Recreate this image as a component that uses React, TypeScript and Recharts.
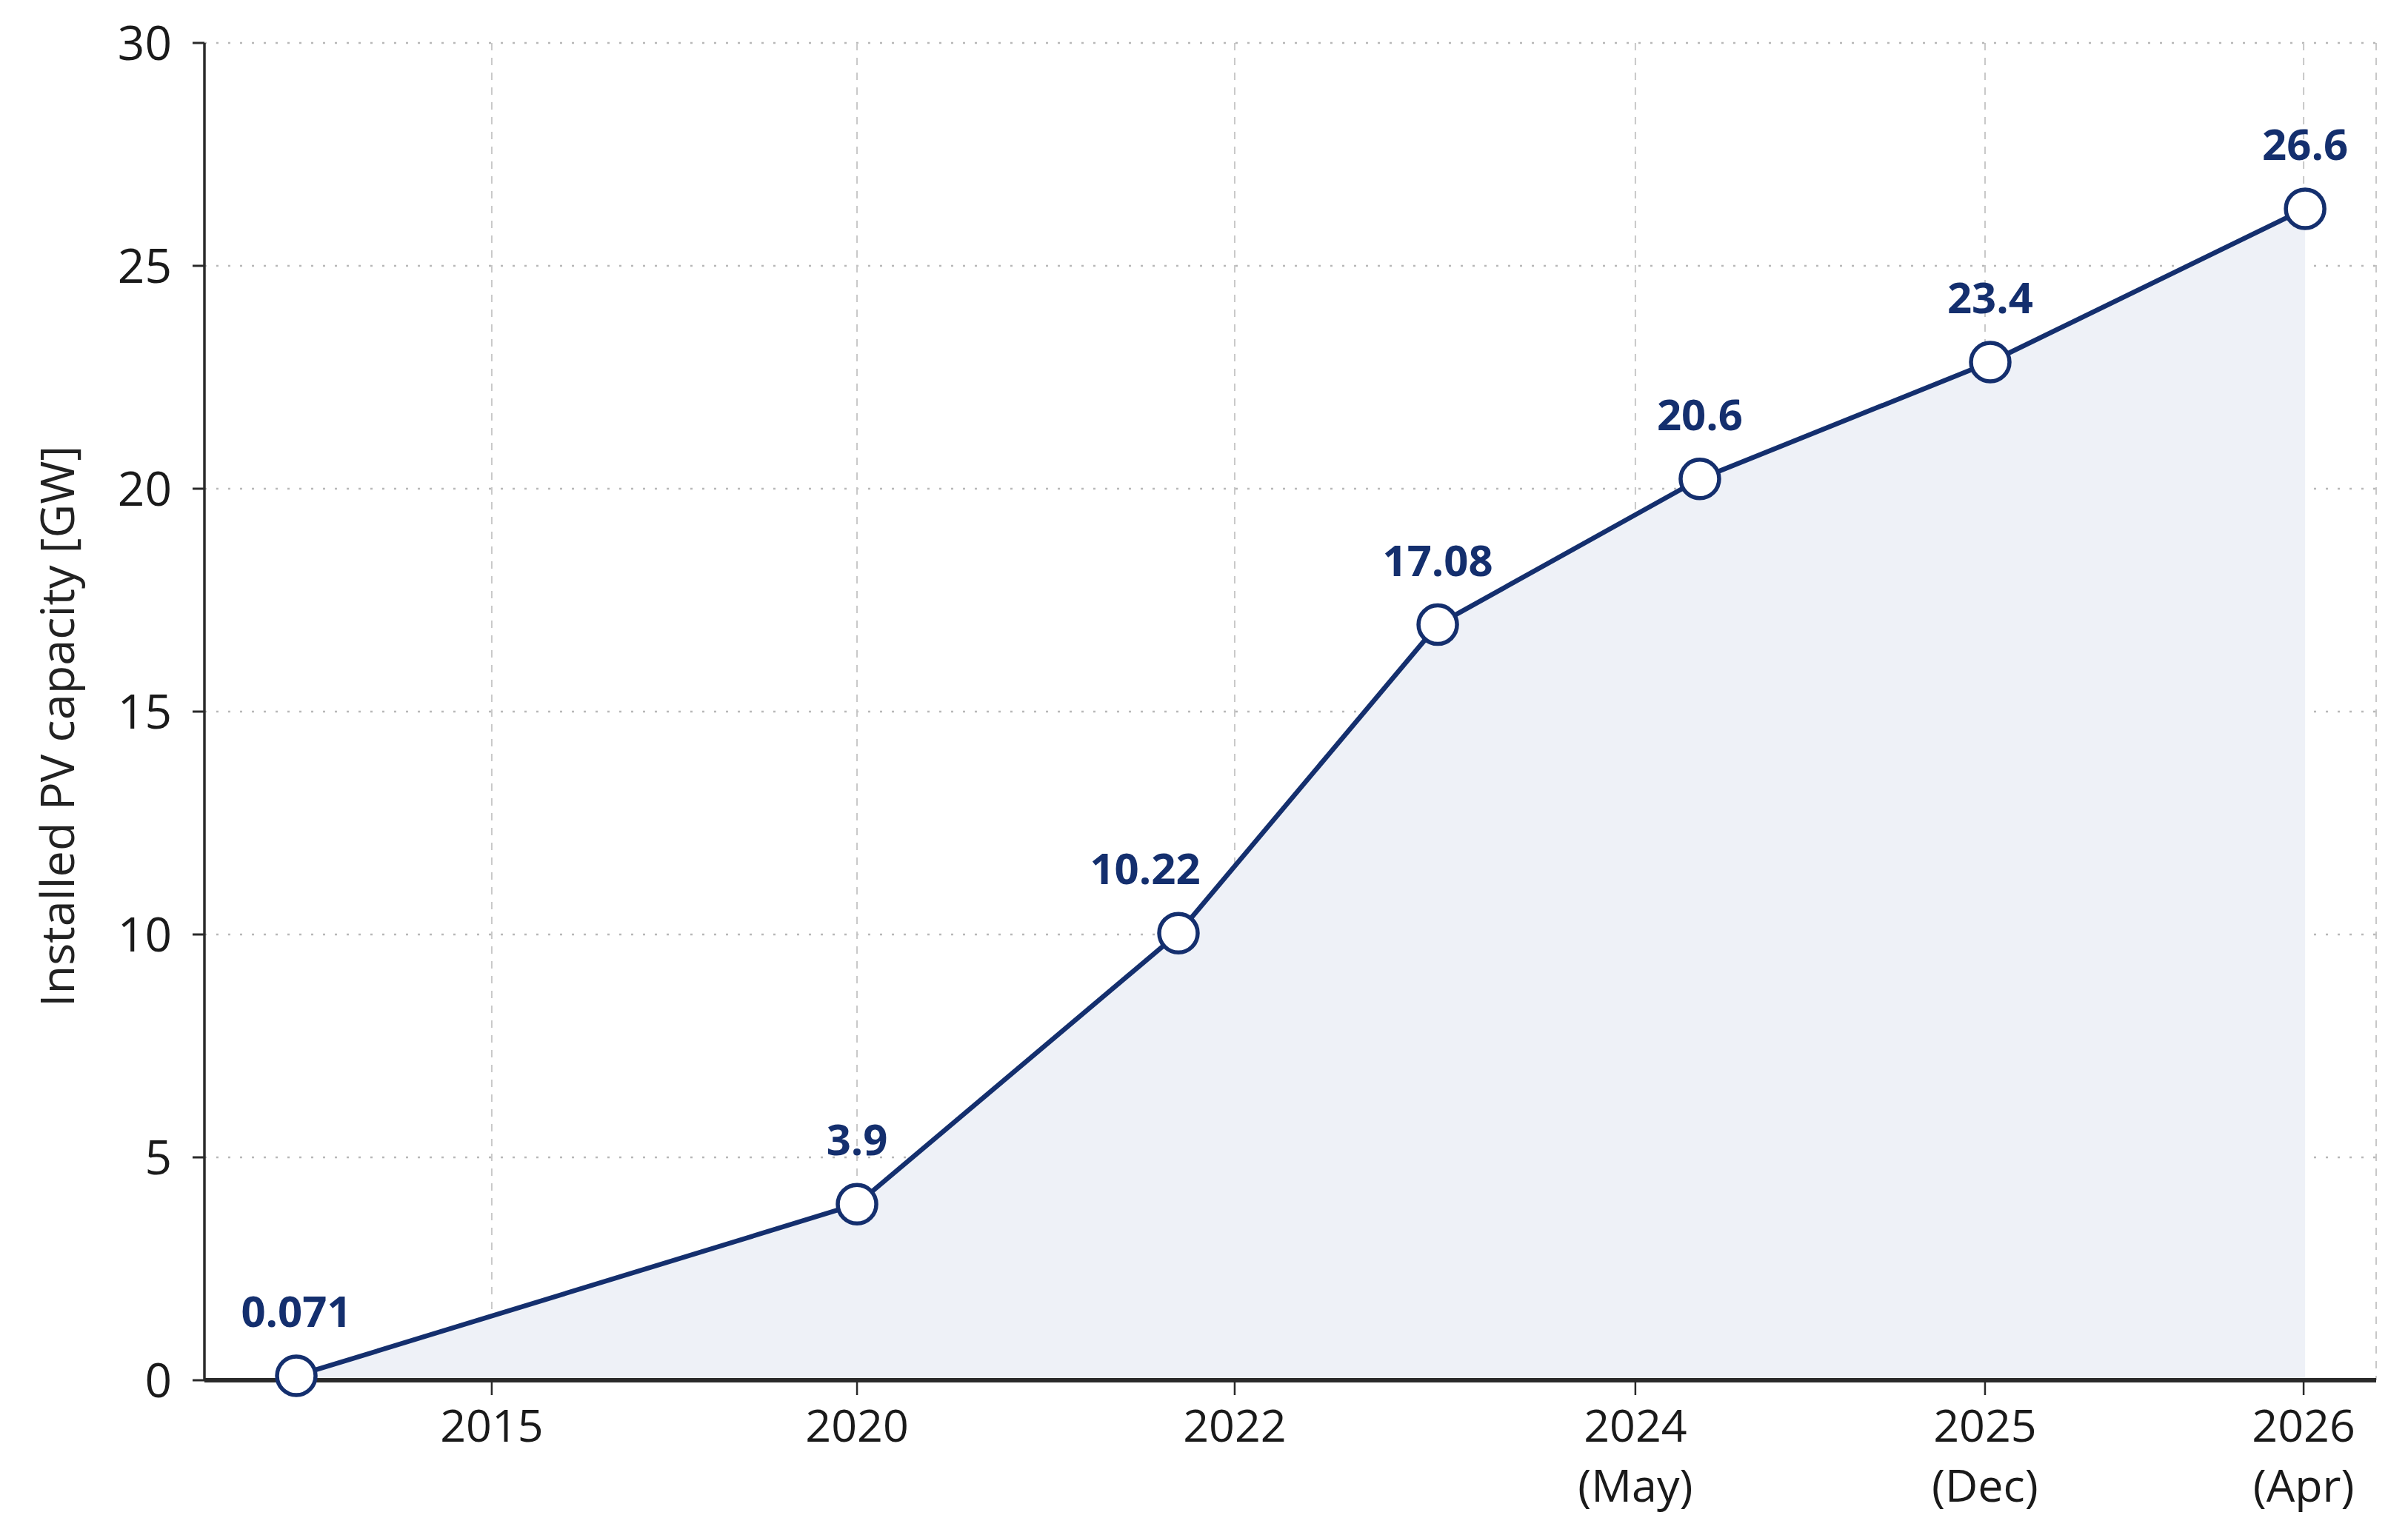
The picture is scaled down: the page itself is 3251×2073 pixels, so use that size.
import React from 'react';
import { ComposedChart, Area, XAxis, YAxis, CartesianGrid, LabelList } from 'recharts';

// Position of each observation along the (non-linear) timeline axis, 0..100
const timelinePos = [4.23, 30.05, 44.85, 56.79, 68.86, 82.23, 96.73];
// Installed PV capacity read from the plotted points [GW]
const capacityGW = [0.1, 3.95, 10.03, 16.95, 20.22, 22.84, 26.28];
// Printed value labels
const valueLabels = ['0.071', '3.9', '10.22', '17.08', '20.6', '23.4', '26.6'];

// X-axis ticks
const tickPos = [13.23, 30.05, 47.44, 65.89, 81.99, 96.66];
const tickYears = ['2015', '2020', '2022', '2024', '2025', '2026'];
const tickMonths = ['', '', '', '(May)', '(Dec)', '(Apr)'];

// Y-axis ticks
const yTicks = [0, 5, 10, 15, 20, 25, 30];

const data = timelinePos.map((pos, i) => ({ pos, value: capacityGW[i], label: valueLabels[i] }));

const NAVY = '#142f6e';
const FONT = '"Open Sans", "Noto Sans", sans-serif';

const W = 3230;
const H = 2050;
const MARGIN = { top: 50, right: 30, bottom: 0, left: 8 };
const Y_AXIS_W = 260;
const X_AXIS_H = 194;
const PLOT_W = W - MARGIN.left - MARGIN.right - Y_AXIS_W;
const PLOT_H = H - MARGIN.top - MARGIN.bottom - X_AXIS_H;

function XTick(props: any) {
  const { x, y, payload } = props;
  const i = tickPos.indexOf(payload.value);
  return (
    <g>
      <text x={x} y={y + 63} textAnchor="middle" fontSize={61} fontFamily={FONT} fill="#1a1a1a">
        {tickYears[i]}
      </text>
      {tickMonths[i] ? (
        <text x={x} y={y + 144} textAnchor="middle" fontSize={61} fontFamily={FONT} fill="#1a1a1a">
          {tickMonths[i]}
        </text>
      ) : null}
    </g>
  );
}

function Dot(props: any) {
  const { cx, cy } = props;
  if (cx == null || cy == null) return null;
  return <circle cx={cx} cy={cy} r={26} fill="#ffffff" stroke={NAVY} strokeWidth={5.5} />;
}

function ValueLabel(props: any) {
  const { x, y, value, index } = props;
  let dx = 0;
  const next = data[index + 1];
  if (next) {
    const dxPx = ((next.pos - data[index].pos) / 100) * PLOT_W;
    const dyPx = ((next.value - data[index].value) / 30) * PLOT_H;
    if (dyPx / dxPx > 1) dx = -45;
  }
  return (
    <text
      x={x + dx}
      y={y - 66}
      textAnchor="middle"
      fontSize={58}
      fontWeight={700}
      fontFamily={FONT}
      fill={NAVY}
    >
      {value}
    </text>
  );
}

function YLabel(props: any) {
  const { viewBox } = props;
  const cx = viewBox.x + 59;
  const cy = viewBox.y + viewBox.height / 2 + 20;
  return (
    <text
      x={cx}
      y={cy}
      transform={`rotate(-90, ${cx}, ${cy})`}
      textAnchor="middle"
      dominantBaseline="central"
      fontSize={63}
      fontFamily={FONT}
      fill="#222222"
    >
      Installed PV capacity [GW]
    </text>
  );
}

export default function App() {
  return (
    <div style={{ background: '#ffffff' }}>
      <ComposedChart width={W} height={H} data={data} margin={MARGIN}>
        <CartesianGrid
          vertical={false}
          stroke="#b8b8b8"
          strokeWidth={2.5}
          strokeDasharray="3 13"
        />
        <CartesianGrid
          horizontal={false}
          stroke="#c8c8c8"
          strokeWidth={2}
          strokeDasharray="10 10"
        />
        <XAxis
          dataKey="pos"
          type="number"
          domain={[0, 100]}
          ticks={tickPos}
          interval={0}
          height={X_AXIS_H}
          tickSize={20}
          tickMargin={0}
          tick={<XTick />}
          axisLine={{ stroke: '#2a2a2a', strokeWidth: 6 }}
          tickLine={{ stroke: '#2a2a2a', strokeWidth: 2.5 }}
        />
        <YAxis
          type="number"
          domain={[0, 30]}
          ticks={yTicks}
          interval={0}
          width={Y_AXIS_W}
          tickSize={16}
          tickMargin={28}
          tick={{ fontSize: 64, fontFamily: FONT, fill: '#1a1a1a' }}
          axisLine={{ stroke: '#2a2a2a', strokeWidth: 3.5 }}
          tickLine={{ stroke: '#2a2a2a', strokeWidth: 3 }}
          label={{ content: YLabel }}
        />
        <Area
          type="linear"
          dataKey="value"
          baseValue={0}
          stroke={NAVY}
          strokeWidth={6.5}
          fill="#eef1f7"
          fillOpacity={1}
          dot={<Dot />}
          activeDot={false}
          isAnimationActive={false}
        >
          <LabelList dataKey="label" content={<ValueLabel />} />
        </Area>
      </ComposedChart>
    </div>
  );
}
